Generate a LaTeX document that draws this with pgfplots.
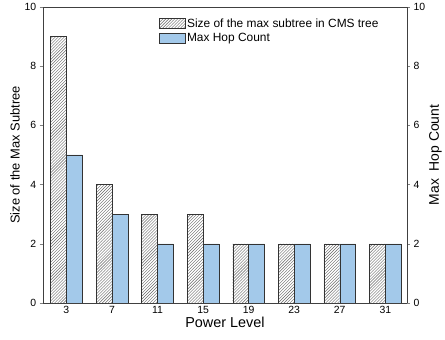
\documentclass[border=0pt]{standalone}
\usepackage{pgfplots}
\pgfplotsset{compat=1.18}
\usetikzlibrary{patterns}
\usepackage{fontspec}
\setmainfont{Liberation Sans}
\definecolor{barblue}{RGB}{163,201,234}
\begin{document}
\begin{tikzpicture}
\begin{axis}[
  at={(0,0)}, anchor=south west,
  scale only axis, width=367pt, height=298pt,
  xmin=-0.52, xmax=7.48, ymin=0, ymax=10,
  xtick={0,...,7}, xticklabels={3,7,11,15,19,23,27,31},
  ytick={0,2,4,6,8,10},
  ytick pos=left,
  tick align=outside, major tick length=3pt,
  x tick style={draw=none},
  /pgf/number format/assume math mode=true,
  ticklabel style={font=\fontsize{10.5}{12}\selectfont},
  xticklabel style={yshift=3pt},
  xlabel={Power Level}, ylabel={Size of the Max Subtree},
  xlabel style={font=\fontsize{14.5}{16}\selectfont, yshift=4pt},
  ylabel style={font=\fontsize{13}{15}\selectfont, yshift=-2pt},
  axis line style={black!75},
  legend style={at={(0.31,0.975)}, anchor=north west, draw=none, fill=none,
    font=\fontsize{12}{13}\selectfont, row sep=1pt},
  legend cell align=left,
  legend image code/.code={\draw[#1] (0pt,-4.5pt) rectangle (26pt,5pt);},
]
\addplot[ybar, bar width=16pt, bar shift=-8pt, draw=black!80, pattern=north east lines, pattern color=black!60]
  coordinates {(0,9) (1,4) (2,3) (3,3) (4,2) (5,2) (6,2) (7,2)};
\addlegendentry{Size of the max subtree in CMS tree}
\addplot[ybar, bar width=16pt, bar shift=8pt, draw=black!80, fill=barblue]
  coordinates {(0,5) (1,3) (2,2) (3,2) (4,2) (5,2) (6,2) (7,2)};
\addlegendentry{Max Hop Count}
\end{axis}
\begin{axis}[
  at={(0,0)}, anchor=south west,
  scale only axis, width=367pt, height=298pt,
  xmin=-0.52, xmax=7.48, ymin=0, ymax=10,
  axis x line=none, axis y line*=right,
  ytick={0,2,4,6,8,10},
  tick align=outside, major tick length=3pt,
  /pgf/number format/assume math mode=true,
  ticklabel style={font=\fontsize{10.5}{12}\selectfont},
  ylabel={Max\ \ Hop Count},
  ylabel style={font=\fontsize{14}{16}\selectfont, yshift=3pt},
  axis line style={black!75},
]
\end{axis}
\useasboundingbox (-43pt,-37pt) rectangle (402pt,302pt);
\end{tikzpicture}
\end{document}
